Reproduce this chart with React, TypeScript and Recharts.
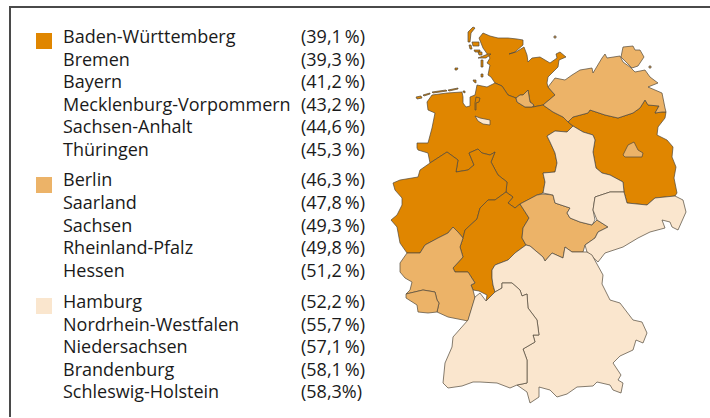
import { ScatterChart, Scatter, XAxis, YAxis } from 'recharts';

type Pt = [number, number];

const DARK = '#E08600';
const MID = '#ECB368';
const PALE = '#FAE6CE';
const EDGE = '#50483a';

// legend groups, as printed
const groupOneNames = ['Baden-Württemberg', 'Bremen', 'Bayern', 'Mecklenburg-Vorpommern', 'Sachsen-Anhalt', 'Thüringen'];
const groupOneShares = ['39,1\u2009%', '39,3\u2009%', '41,2\u2009%', '43,2\u2009%', '44,6\u2009%', '45,3\u2009%'];
const groupTwoNames = ['Berlin', 'Saarland', 'Sachsen', 'Rheinland-Pfalz', 'Hessen'];
const groupTwoShares = ['46,3\u2009%', '47,8\u2009%', '49,3\u2009%', '49,8\u2009%', '51,2\u2009%'];
const groupThreeNames = ['Hamburg', 'Nordrhein-Westfalen', 'Niedersachsen', 'Brandenburg', 'Schleswig-Holstein'];
const groupThreeShares = ['52,2\u2009%', '55,7\u2009%', '57,1\u2009%', '58,1\u2009%', '58,3%'];

// state outlines, in picture units
const schleswigHolstein: Pt[] = [[479,38],[483,33],[490,36],[498,38],[508,38],[517,39],[523,40],[523,45],[515,52],[509,54],[516,52],[524,47],[527,55],[528,62],[532,58],[540,57],[550,63],[557,58],[556,54],[560,52],[566,57],[559,60],[558,67],[548,77],[547,83],[548,87],[555,95],[543,105],[533,107],[534,105],[530,102],[528,90],[523,95],[520,95],[516,98],[508,95],[502,86],[495,83],[491,77],[488,75],[490,65],[487,63],[490,58],[483,48]];
const niedersachsen: Pt[] = [[495,83],[487,87],[477,85],[475,95],[470,97],[470,106],[466,107],[463,103],[463,97],[462,92],[447,93],[432,95],[427,102],[428,110],[435,113],[432,128],[428,143],[417,143],[417,148],[418,150],[428,153],[430,163],[447,152],[458,160],[456,172],[468,170],[474,165],[469,153],[478,149],[482,153],[490,155],[495,152],[491,162],[498,175],[507,182],[506,192],[513,197],[508,203],[515,208],[520,204],[537,195],[543,193],[545,182],[543,173],[555,172],[557,163],[555,153],[550,142],[547,136],[555,131],[567,132],[573,126],[568,122],[563,117],[553,112],[543,105],[533,107],[532,107],[525,107],[517,102],[516,98],[508,95],[502,86]];
const nordrheinWestfalen: Pt[] = [[430,163],[420,170],[418,177],[400,180],[393,183],[395,190],[402,198],[402,205],[397,215],[391,220],[397,227],[400,243],[407,253],[420,253],[425,245],[438,238],[448,233],[453,227],[458,232],[463,238],[465,230],[477,219],[480,208],[488,200],[495,200],[506,192],[507,182],[498,175],[491,162],[495,152],[490,155],[482,153],[478,149],[469,153],[474,165],[468,170],[456,172],[458,160],[447,152]];
const hessen: Pt[] = [[463,238],[465,230],[477,219],[480,208],[488,200],[495,200],[506,192],[513,197],[508,203],[515,208],[520,204],[529,218],[523,228],[522,238],[526,245],[515,253],[508,260],[495,265],[492,270],[492,278],[493,285],[495,292],[486,301],[487,295],[479,291],[473,290],[471,285],[475,283],[468,272],[455,272],[453,268],[463,257],[460,247]];
const brandenburg: Pt[] = [[568,122],[573,117],[588,113],[590,110],[605,115],[618,118],[633,113],[640,108],[645,100],[648,105],[659,106],[655,113],[662,112],[666,112],[665,118],[658,127],[657,135],[667,140],[673,147],[672,157],[676,167],[674,178],[677,193],[675,196],[655,198],[647,205],[627,203],[624,192],[623,182],[610,175],[602,173],[596,168],[593,152],[595,140],[593,135],[583,132],[573,126]];
const mecklenburg: Pt[] = [[548,87],[555,78],[565,80],[572,75],[580,70],[592,68],[593,73],[602,58],[605,54],[607,58],[620,56],[623,62],[630,67],[635,72],[645,70],[650,77],[658,83],[648,87],[662,93],[665,108],[666,112],[662,112],[655,113],[659,106],[648,105],[645,100],[640,108],[633,113],[618,118],[605,115],[590,110],[588,113],[573,117],[568,122],[563,117],[553,112],[543,105],[555,95]];
const ruegen: Pt[] = [[623,47],[633,46],[635,50],[640,50],[644,57],[638,66],[632,68],[627,63],[621,57]];
const thueringen: Pt[] = [[520,204],[537,195],[543,194],[553,195],[555,203],[570,208],[567,213],[570,218],[580,222],[592,225],[597,220],[608,227],[598,232],[595,238],[585,245],[583,252],[572,252],[565,247],[563,258],[552,253],[545,261],[543,257],[530,246],[526,245],[522,238],[523,228],[529,218]];
const rheinlandPfalz: Pt[] = [[407,253],[420,253],[425,245],[438,238],[448,233],[453,227],[458,232],[463,238],[460,247],[463,257],[453,268],[455,272],[468,272],[475,283],[471,285],[473,290],[475,298],[468,321],[448,317],[437,312],[439,303],[437,300],[435,292],[423,290],[406,294],[410,290],[412,282],[405,278],[400,272],[400,263]];
const saarland: Pt[] = [[406,294],[423,290],[435,292],[437,300],[439,303],[437,312],[428,313],[418,312],[417,305],[406,298]];
const berlin: Pt[] = [[623,155],[628,145],[634,142],[638,150],[643,153],[642,157],[625,157]];
const hamburg: Pt[] = [[516,98],[520,95],[523,95],[528,90],[530,102],[534,105],[532,107],[525,107],[517,102]];
const sachsenAnhalt: Pt[] = [[547,136],[555,131],[567,132],[573,126],[583,132],[593,135],[595,140],[593,152],[596,168],[602,173],[610,175],[623,182],[624,192],[610,192],[595,197],[593,210],[595,220],[592,225],[580,222],[570,218],[567,213],[570,208],[555,203],[553,195],[543,193],[545,182],[543,173],[555,172],[557,163],[555,153],[550,142]];
const sachsen: Pt[] = [[595,197],[610,192],[624,192],[627,203],[647,205],[655,198],[675,196],[683,200],[686,212],[678,230],[672,227],[670,222],[662,220],[665,228],[650,232],[638,238],[623,247],[605,253],[598,262],[587,252],[585,245],[595,238],[598,232],[608,227],[597,220],[593,210]];
const bayern: Pt[] = [[495,292],[493,285],[492,278],[492,270],[495,265],[508,260],[515,253],[526,245],[530,246],[543,257],[545,261],[552,253],[563,258],[565,247],[572,252],[583,252],[587,252],[592,255],[603,275],[602,284],[610,300],[620,303],[633,320],[642,322],[647,333],[643,343],[636,340],[633,350],[620,356],[613,363],[621,375],[618,380],[623,383],[621,393],[613,390],[610,385],[597,382],[593,386],[577,387],[567,394],[557,397],[550,390],[539,387],[539,397],[530,403],[527,392],[517,385],[527,383],[527,360],[523,349],[535,342],[533,335],[539,335],[537,320],[528,308],[527,294],[522,296],[520,290],[512,283],[502,283],[502,288]];
const badenWuerttemberg: Pt[] = [[475,297],[480,293],[486,301],[495,292],[502,288],[502,283],[512,283],[520,290],[522,296],[527,294],[528,308],[537,320],[539,335],[533,335],[535,342],[523,349],[527,360],[527,383],[517,385],[510,388],[497,383],[480,382],[473,382],[462,386],[448,388],[443,383],[445,363],[452,347],[453,337],[468,320]];
const bremen: Pt[] = [[475,116],[480,118],[490,120],[490,125],[483,124],[478,121]];
const bremerhaven: Pt[] = [[476,97],[480,98],[479,102],[476,103],[476,110],[475,110],[475,103]];
const darkIslands: Pt[][] = [
  [[473,27],[475,28],[471,33],[470,42],[468,42],[468,32]],
  [[472,42],[479,42],[479,46],[473,46]],
  [[469,45],[471,45],[472,49],[470,49]],
  [[474,50],[480,50],[480,52],[475,52]],
  [[478,52],[482,52],[482,55],[479,55]],
  [[478,58],[488,54],[491,54],[486,58]],
  [[481,60],[483,60],[483,67],[481,67]],
  [[481,74],[483,74],[483,77],[481,77]],
  [[455,68],[458,68],[457,70],[455,70]],
  [[473,80],[476,80],[476,83],[474,82]],
  [[416,97],[421,96],[422,98],[417,99]],
  [[423,95],[430,93],[430,94],[424,96]],
  [[432,92],[446,90],[447,91],[433,93]],
  [[448,90],[458,88],[458,89],[449,91]],
  [[463,91],[465,91],[465,93],[463,92]],
];
const midIslands: Pt[][] = [
  [[554,36],[556,36],[556,38],[554,38]],
  [[649,66],[651,66],[651,68],[649,68]],
];

const regions: { outline: Pt[]; fill: string }[] = [
  { outline: schleswigHolstein, fill: DARK },
  { outline: niedersachsen, fill: DARK },
  { outline: nordrheinWestfalen, fill: DARK },
  { outline: hessen, fill: DARK },
  { outline: brandenburg, fill: DARK },
  { outline: bremerhaven, fill: DARK },
  ...darkIslands.map((outline) => ({ outline, fill: DARK })),
  { outline: mecklenburg, fill: MID },
  { outline: ruegen, fill: MID },
  ...midIslands.map((outline) => ({ outline, fill: MID })),
  { outline: thueringen, fill: MID },
  { outline: rheinlandPfalz, fill: MID },
  { outline: saarland, fill: MID },
  { outline: berlin, fill: MID },
  { outline: hamburg, fill: MID },
  { outline: sachsenAnhalt, fill: PALE },
  { outline: sachsen, fill: PALE },
  { outline: bayern, fill: PALE },
  { outline: badenWuerttemberg, fill: PALE },
  { outline: bremen, fill: PALE },
];

function LegendGroup({ names, shares, color, top, swatchTop, rowGap }: {
  names: string[]; shares: string[]; color: string; top: number; swatchTop: number; rowGap: number;
}) {
  return (
    <>
      <div style={{ position: 'absolute', left: 36, top: swatchTop, width: 16, height: 16, background: color }} />
      {names.map((name, i) => (
        <div key={name} style={{ position: 'absolute', left: 0, top: top + i * rowGap - 13, lineHeight: '24px', whiteSpace: 'nowrap' }}>
          <span style={{ position: 'absolute', left: 63 }}>{name}</span>
          <span style={{ position: 'absolute', left: 301 }}>({shares[i]})</span>
        </div>
      ))}
    </>
  );
}

export default function App() {
  return (
    <div style={{ position: 'absolute', left: 0, top: 0, width: 710, height: 418, background: '#fff', overflow: 'hidden', fontFamily: '"Open Sans", sans-serif', fontSize: 18, color: '#1a1a1a' }}>
      {/* frame: top and left rule only */}
      <div style={{ position: 'absolute', left: 9, top: 6, width: 701, height: 1.5, background: '#4a4a4a' }} />
      <div style={{ position: 'absolute', left: 9, top: 6, width: 1.5, height: 411, background: '#4a4a4a' }} />

      <LegendGroup names={groupOneNames} shares={groupOneShares} color={DARK} top={37} swatchTop={33} rowGap={22.6} />
      <LegendGroup names={groupTwoNames} shares={groupTwoShares} color={MID} top={180} swatchTop={177} rowGap={22.75} />
      <LegendGroup names={groupThreeNames} shares={groupThreeShares} color={PALE} top={302} swatchTop={298} rowGap={22.5} />

      <div style={{ position: 'absolute', left: 0, top: 0 }}>
        <ScatterChart width={710} height={418} margin={{ top: 0, right: 0, bottom: 0, left: 0 }}>
          <XAxis type="number" dataKey="x" domain={[0, 710]} hide />
          <YAxis type="number" dataKey="y" domain={[0, 418]} reversed hide />
          {regions.map((region, i) => (
            <Scatter
              key={i}
              data={region.outline.map(([x, y]) => ({ x, y }))}
              isAnimationActive={false}
              shape={() => <g />}
              line={(props: any) => (
                <polygon
                  key={i}
                  points={props.points.map((p: any) => `${p.x},${p.y}`).join(' ')}
                  fill={region.fill}
                  stroke={EDGE}
                  strokeWidth={0.7}
                  strokeLinejoin="round"
                />
              )}
            />
          ))}
        </ScatterChart>
      </div>
    </div>
  );
}
